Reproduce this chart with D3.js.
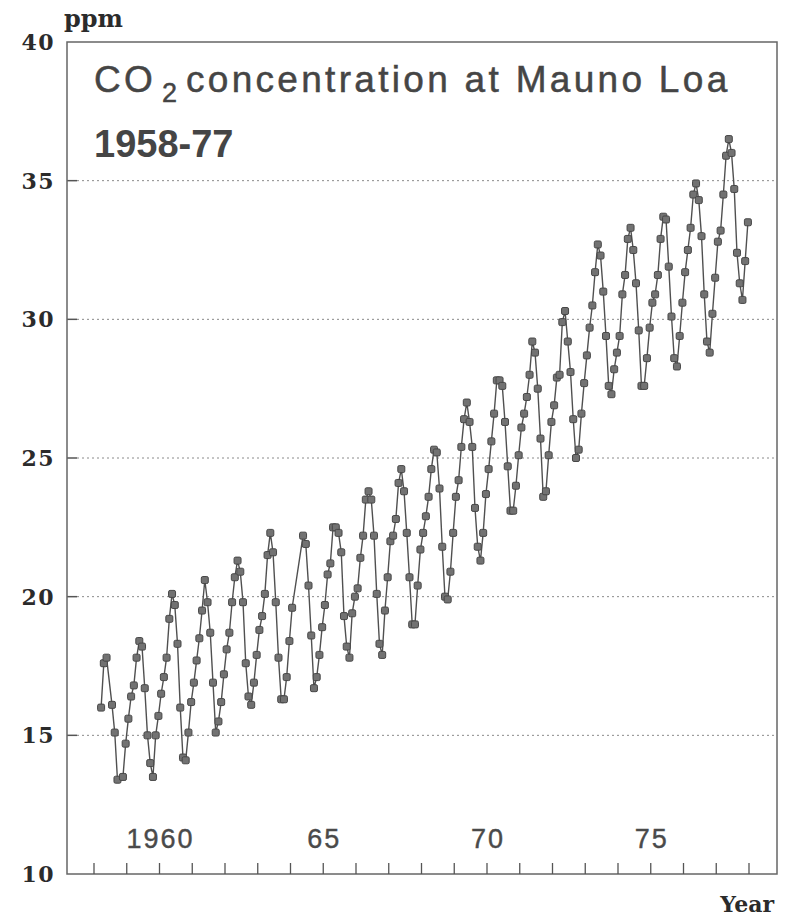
<!DOCTYPE html>
<html>
<head>
<meta charset="utf-8">
<script src="https://cdn.jsdelivr.net/npm/d3@7/dist/d3.min.js"></script>
<style>
  body { margin: 0; background: #fff; }
</style>
</head>
<body>
<div id="container"></div>
<script>
// Années et moyennes mensuelles (ppm - 300), null = pas de mesure
const years = [1958, 1959, 1960, 1961, 1962, 1963, 1964, 1965, 1966, 1967,
               1968, 1969, 1970, 1971, 1972, 1973, 1974, 1975, 1976, 1977];

const co2 = [
  [null, null, 16.0, 17.6, 17.8, null, 16.1, 15.1, 13.4, null, 13.5, 14.7],
  [15.6, 16.4, 16.8, 17.8, 18.4, 18.2, 16.7, 15.0, 14.0, 13.5, 15.0, 15.7],
  [16.5, 17.1, 17.8, 19.2, 20.1, 19.7, 18.3, 16.0, 14.2, 14.1, 15.1, 16.2],
  [16.9, 17.7, 18.5, 19.5, 20.6, 19.8, 18.7, 16.9, 15.1, 15.5, 16.2, 17.2],
  [18.1, 18.7, 19.8, 20.7, 21.3, 20.9, 19.8, 17.6, 16.4, 16.1, 16.9, 17.9],
  [18.8, 19.3, 20.1, 21.5, 22.3, 21.6, 19.8, 17.8, 16.3, 16.3, 17.1, 18.4],
  [19.6, null, null, null, 22.2, 21.9, 20.4, 18.6, 16.7, 17.1, 17.9, 18.9],
  [19.7, 20.8, 21.2, 22.5, 22.5, 22.3, 21.6, 19.3, 18.2, 17.8, 19.4, 20.0],
  [20.3, 21.4, 22.2, 23.5, 23.8, 23.5, 22.2, 20.1, 18.3, 17.9, 19.5, 20.7],
  [22.0, 22.2, 22.8, 24.1, 24.6, 23.8, 22.3, 20.7, 19.0, 19.0, 20.4, 21.7],
  [22.3, 22.9, 23.6, 24.6, 25.3, 25.2, 23.9, 21.8, 20.0, 19.9, 20.9, 22.3],
  [23.6, 24.2, 25.4, 26.4, 27.0, 26.3, 25.4, 23.2, 21.8, 21.3, 22.3, 23.7],
  [24.6, 25.6, 26.6, 27.8, 27.8, 27.6, 26.3, 24.7, 23.1, 23.1, 24.0, 25.1],
  [26.1, 26.6, 27.2, 28.0, 29.2, 28.8, 27.5, 25.7, 23.6, 23.8, 25.1, 26.3],
  [26.9, 27.9, 28.0, 29.9, 30.3, 29.2, 28.1, 26.4, 25.0, 25.3, 26.6, 27.7],
  [28.7, 29.7, 30.5, 31.7, 32.7, 32.3, 31.0, 29.4, 27.6, 27.3, 28.2, 28.8],
  [29.4, 30.9, 31.6, 32.9, 33.3, 32.5, 31.3, 29.6, 27.6, 27.6, 28.6, 29.7],
  [30.6, 30.9, 31.6, 32.9, 33.7, 33.6, 31.9, 30.1, 28.6, 28.3, 29.4, 30.6],
  [31.7, 32.5, 33.3, 34.5, 34.9, 34.3, 33.0, 30.9, 29.2, 28.8, 30.2, 31.5],
  [32.8, 33.2, 34.5, 35.9, 36.5, 36.0, 34.7, 32.4, 31.3, 30.7, 32.1, 33.5]
];

const yTicks = [10, 15, 20, 25, 30, 35, 40];
const xLabelYears = [1960, 1965, 1970, 1975];
const xLabelText = ["1960", "65", "70", "75"];

/**
 * Mise en page
**/
const width = 790, height = 918;
const plotLeft = 67, plotRight = 777, plotTop = 42, plotBottom = 874;
const yearWidth = 32.75, firstTick = 94;

const serif = "'DejaVu Serif', serif";
const sans = "'Liberation Sans', Arial, sans-serif";

const svg = d3.select("#container").append("svg")
  .attr("width", width)
  .attr("height", height);

const x = d3.scaleLinear()
  .domain([years[0] - (firstTick - plotLeft) / yearWidth, years[0] + (plotRight - firstTick) / yearWidth])
  .range([plotLeft, plotRight]);

const y = d3.scaleLinear()
  .domain([10, 40])
  .range([plotBottom, plotTop]);

/* Points de mesure */
const data = [];
years.forEach(function(yr, i) {
  co2[i].forEach(function(v, m) {
    if (v !== null) data.push({ t: yr + (m + 0.6) / 12, v: v });
  });
});

/* Grille pointillée */
svg.append("g").selectAll("line")
  .data(yTicks.slice(1, -1))
  .enter().append("line")
    .attr("x1", plotLeft + 10)
    .attr("x2", plotRight)
    .attr("y1", function(d) { return y(d); })
    .attr("y2", function(d) { return y(d); })
    .attr("stroke", "#8a8a8a")
    .attr("stroke-width", 1)
    .attr("stroke-dasharray", "2,3");

/* Petites graduations à gauche */
svg.append("g").selectAll("line")
  .data(yTicks.slice(1, -1))
  .enter().append("line")
    .attr("x1", plotLeft)
    .attr("x2", plotLeft + 10)
    .attr("y1", function(d) { return y(d); })
    .attr("y2", function(d) { return y(d); })
    .attr("stroke", "#555")
    .attr("stroke-width", 1.5);

/* Cadre */
svg.append("rect")
  .attr("x", plotLeft)
  .attr("y", plotTop)
  .attr("width", plotRight - plotLeft)
  .attr("height", plotBottom - plotTop)
  .attr("fill", "none")
  .attr("stroke", "#666")
  .attr("stroke-width", 1.5);

/* Graduations des années */
const tickYears = d3.range(years[0], years[years.length - 1] + 2);
svg.append("g").selectAll("line")
  .data(tickYears)
  .enter().append("line")
    .attr("x1", function(d) { return x(d); })
    .attr("x2", function(d) { return x(d); })
    .attr("y1", plotBottom)
    .attr("y2", plotBottom - 11)
    .attr("stroke", "#555")
    .attr("stroke-width", 1.3);

/* Libellés des axes */
svg.append("g").selectAll("text")
  .data(yTicks)
  .enter().append("text")
    .attr("x", 55)
    .attr("y", function(d) { return y(d) + 8; })
    .attr("text-anchor", "end")
    .style("font-family", serif)
    .style("font-weight", "bold")
    .style("font-size", "22px")
    .style("letter-spacing", "1.5px")
    .style("fill", "#2b2b2b")
    .text(function(d) { return d; });

svg.append("g").selectAll("text")
  .data(xLabelYears)
  .enter().append("text")
    .attr("x", function(d) { return x(d) + 1; })
    .attr("y", 848)
    .attr("text-anchor", "middle")
    .style("font-family", sans)
    .style("font-size", "27px")
    .style("letter-spacing", "2px")
    .style("fill", "#4a4a4a")
    .style("stroke", "#4a4a4a")
    .style("stroke-width", 0.4)
    .text(function(d, i) { return xLabelText[i]; });

svg.append("text")
  .attr("x", 64)
  .attr("y", 27)
  .style("font-family", serif)
  .style("font-weight", "bold")
  .style("font-size", "24px")
  .style("fill", "#2b2b2b")
  .text("ppm");

svg.append("text")
  .attr("x", 774)
  .attr("y", 912)
  .attr("text-anchor", "end")
  .style("font-family", serif)
  .style("font-weight", "bold")
  .style("font-size", "22px")
  .style("fill", "#2b2b2b")
  .text("Year");

/* Titre */
const title = svg.append("text")
  .attr("y", 92)
  .style("font-family", sans)
  .style("font-size", "37px")
  .style("letter-spacing", "3.3px")
  .style("fill", "#454545")
  .style("stroke", "#454545")
  .style("stroke-width", 0.5);
title.append("tspan").attr("x", 94).text("CO");
title.append("tspan").attr("x", 162).attr("dy", 10).style("font-size", "27px").text("2");
title.append("tspan").attr("x", 186).attr("dy", -10).text("concentration at Mauno Loa");

svg.append("text")
  .attr("x", 94)
  .attr("y", 157)
  .style("font-family", sans)
  .style("font-weight", "bold")
  .style("font-size", "38px")
  .style("fill", "#454545")
  .text("1958-77");

/* Courbe et marqueurs */
const line = d3.line()
  .x(function(d) { return x(d.t); })
  .y(function(d) { return y(d.v); });

svg.append("path")
  .datum(data)
  .attr("d", line)
  .attr("fill", "none")
  .attr("stroke", "#505050")
  .attr("stroke-width", 1.4);

const markerSize = 7;
svg.append("g").selectAll("rect")
  .data(data)
  .enter().append("rect")
    .attr("x", function(d) { return x(d.t) - markerSize / 2; })
    .attr("y", function(d) { return y(d.v) - markerSize / 2; })
    .attr("width", markerSize)
    .attr("height", markerSize)
    .attr("rx", 1.5)
    .attr("fill", "#727272")
    .attr("stroke", "#474747")
    .attr("stroke-width", 1);
</script>
</body>
</html>
